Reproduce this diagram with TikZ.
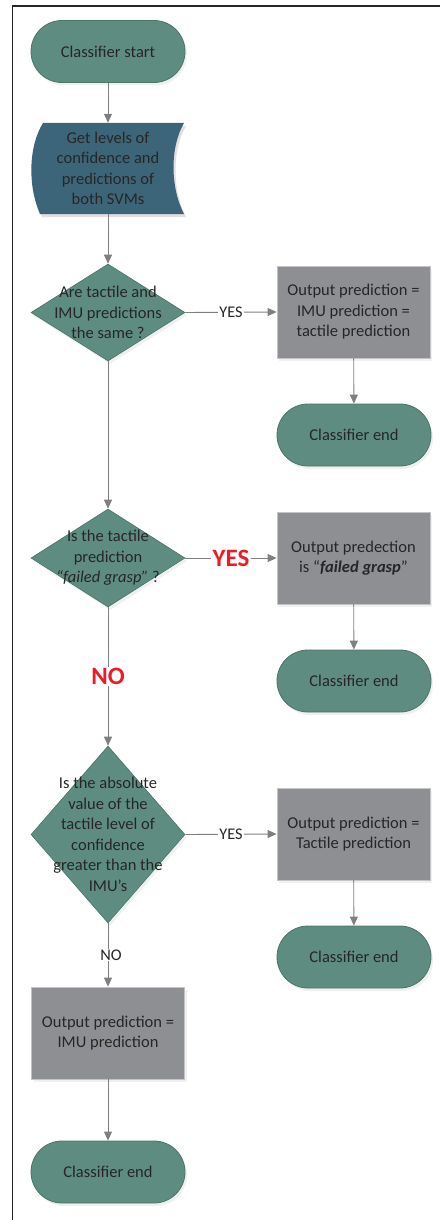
\documentclass[tikz,border=0pt]{standalone}
\usepackage{fontspec}
\setmainfont{Carlito}
\usetikzlibrary{arrows.meta,shapes.geometric,shadows}
\definecolor{teal1}{HTML}{5F8C81}
\definecolor{teal2}{HTML}{4A7567}
\definecolor{datab}{HTML}{3D6579}
\definecolor{grayb}{HTML}{8E8F93}
\definecolor{grayl}{HTML}{C4C4C6}
\definecolor{linec}{HTML}{7F7F80}
\definecolor{txt}{HTML}{262626}
\definecolor{redl}{HTML}{EC1C24}
\tikzset{
  base/.style={font=\fontsize{16.5}{20.5}\selectfont, text=txt, align=center},
  shd/.style={drop shadow={opacity=0.12, shadow xshift=2pt, shadow yshift=-3pt}},
  term/.style={base, shd, draw=teal2, line width=0.8pt, fill=teal1, rounded corners=31pt,
    minimum width=154pt, minimum height=62pt, inner sep=0pt},
  proc/.style={base, shd, draw=grayl, line width=0.8pt, fill=grayb,
    minimum width=153pt, minimum height=92pt, inner sep=0pt},
  dec/.style={shd, diamond, draw=teal2, line width=0.6pt, fill=teal1, inner sep=0pt, minimum width=154pt},
  dtext/.style={base},
  arr/.style={draw=linec, line width=0.9pt, -{Triangle[length=9pt,width=8pt]}},
  lbl/.style={font=\fontsize{16.3}{18}\selectfont, text=txt, fill=white, inner sep=1pt},
  redlbl/.style={font=\fontsize{25}{28}\selectfont\bfseries, text=redl, fill=white, inner sep=1.5pt},
}
\begin{document}
\begin{tikzpicture}[x=1pt,y=-1pt]
\useasboundingbox (0,0) rectangle (440,1220);
% frame
\draw[line width=1.2pt, black!85] (12.5,1220) -- (12.5,6) -- (440,6);

% start
\node[term] (start) at (108,51.5) {Classifier start};

% data shape
\fill[black, opacity=0.12] (45,126) -- (186,126) .. controls (172,150) and (172,190) .. (186,217)
   -- (42,217) .. controls (30,190) and (30,150) .. (45,126) -- cycle;
\fill[datab] (43,123) -- (184,123) .. controls (170,147) and (170,187) .. (184,214)
   -- (40,214) .. controls (28,187) and (28,147) .. (43,123) -- cycle;
\node[base, minimum width=151pt, minimum height=91pt, inner sep=0pt] (data) at (108,168.5)
  {Get levels of\\confidence and\\predictions of\\both SVMs};

% decision 1
\node[dec, minimum height=97pt] (d1) at (108,312.5) {};
\node[dtext] (t1) at (d1) {Are tactile and\\IMU predictions\\the same ?};
\node[proc] (b1) at (353.5,312) {Output prediction =\\IMU prediction =\\tactile prediction};
\node[term] (e1) at (354,435) {Classifier end};

% decision 2
\node[dec, minimum height=98pt] (d2) at (108,558) {};
\node[dtext] (t2) at (d2) {Is the tactile\\prediction\\\textit{“failed grasp”} ?};
\node[proc] (b2) at (353.5,558) {Output predection\\is “\textbf{\textit{failed grasp}}”};
\node[term] (e2) at (354,681) {Classifier end};

% decision 3
\node[dec, minimum height=177pt] (d3) at (108,834.5) {};
\node[dtext] (t3) at (d3) {Is the absolute\\value of the\\tactile level of\\confidence\\greater than the\\IMU’s};
\node[proc] (b3) at (353.5,834) {Output prediction =\\Tactile prediction};
\node[term] (e3) at (354,957) {Classifier end};

% final
\node[proc] (b4) at (108,1033) {Output prediction =\\IMU prediction};
\node[term] (e4) at (108,1172) {Classifier end};

% connectors
\draw[arr] (start) -- (data);
\draw[arr] (data) -- (d1);
\draw[arr] (d1.east) -- node[lbl]{YES} (b1.west);
\draw[arr] (b1) -- (e1);
\draw[arr] (d1.south) -- (d2.north);
\draw[arr] (d2.east) -- node[redlbl]{YES} (b2.west);
\draw[arr] (b2) -- (e2);
\draw[arr] (d2.south) -- node[redlbl]{NO} (d3.north);
\draw[arr] (d3.east) -- node[lbl]{YES} (b3.west);
\draw[arr] (b3) -- (e3);
\draw[arr] (d3.south) -- node[lbl, xshift=3pt]{NO} (b4.north);
\draw[arr] (b4) -- (e4);
\end{tikzpicture}
\end{document}
